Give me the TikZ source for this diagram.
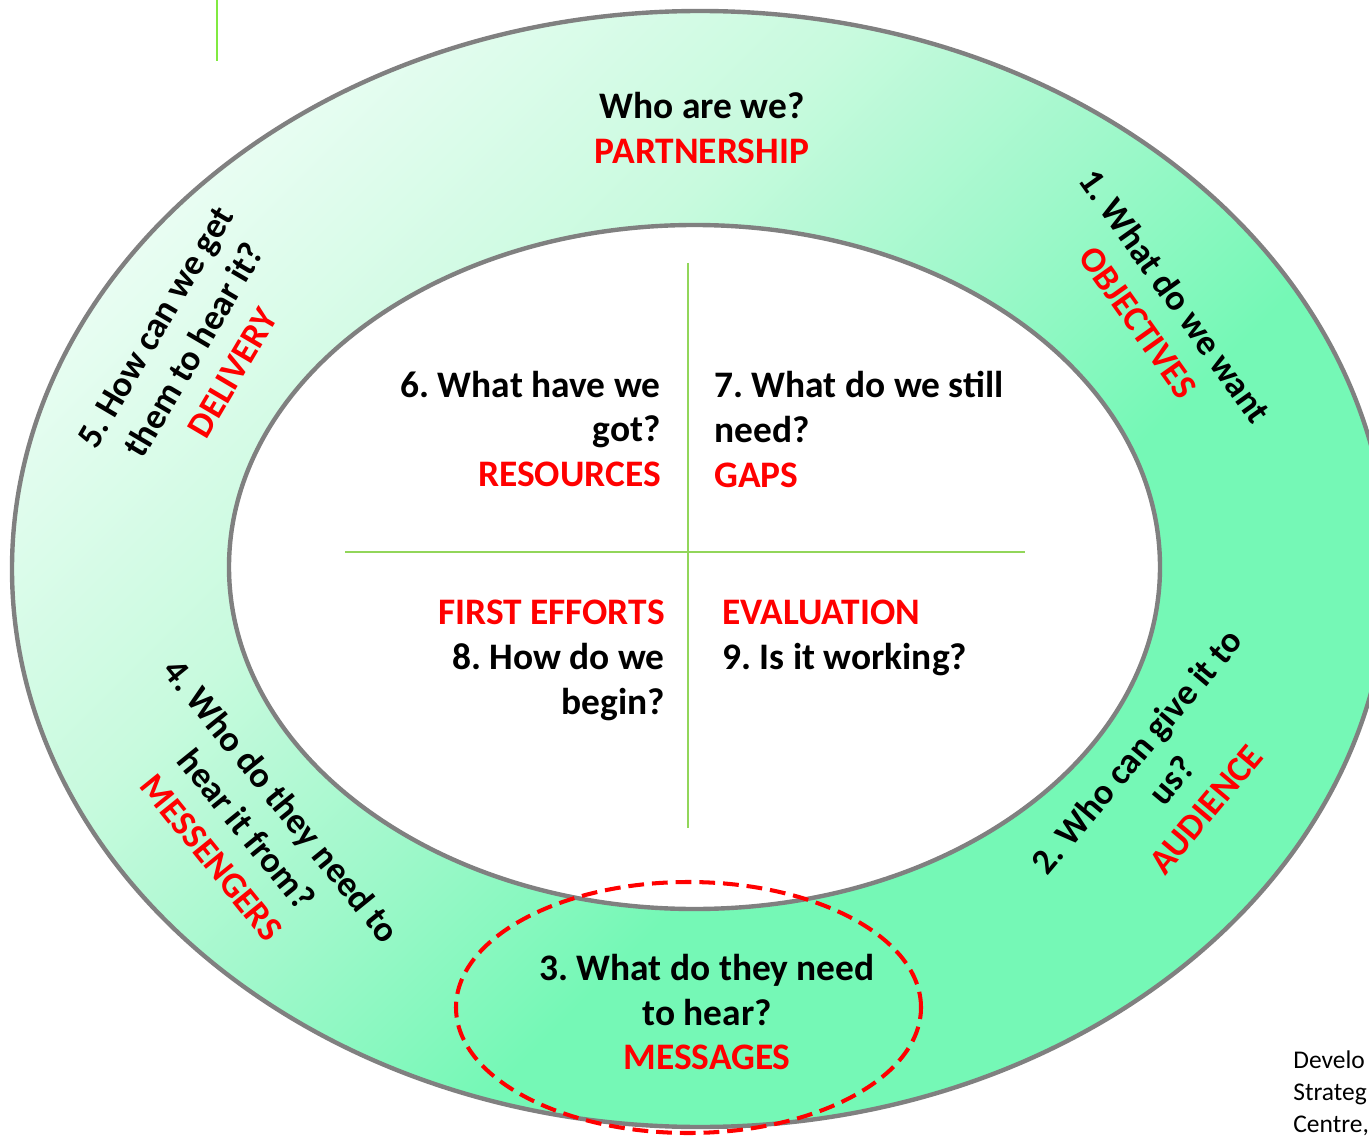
\documentclass[tikz,border=0pt]{standalone}
\usepackage{fontspec}
\setmainfont{Carlito}
\frenchspacing
\usetikzlibrary{shapes.geometric}
\definecolor{ringlight}{RGB}{232,253,242}
\definecolor{ringB}{RGB}{200,250,222}
\definecolor{ringC}{RGB}{160,248,203}
\definecolor{ringdark}{RGB}{117,248,182}
\definecolor{ringedge}{RGB}{128,128,128}
\definecolor{crossgreen}{RGB}{146,214,90}
\definecolor{topgreen}{RGB}{128,234,64}
\definecolor{labelred}{RGB}{255,0,0}
\pgfdeclareverticalshading{ringshade}{100bp}{color(0bp)=(ringdark); color(41bp)=(ringdark); color(51bp)=(ringC); color(61bp)=(ringB); color(75bp)=(ringlight); color(100bp)=(ringlight)}
\newcommand{\hl}[1]{\textcolor{labelred}{#1}}
\tikzset{
  qtext/.style={font={\fontsize{21.3}{25.6}\selectfont\bfseries}, inner sep=0pt, text=black},
  rtext/.style={font={\fontsize{20.5}{25.6}\selectfont\bfseries}, inner sep=0pt, text=black, align=center},
  ringline/.style={draw=ringedge, line width=2.5pt},
  crossline/.style={draw=crossgreen, line width=1.1pt},
  focusring/.style={ellipse, draw=labelred, line width=2.3pt, dash pattern=on 9pt off 4.5pt, minimum width=465*0.02cm, minimum height=251*0.02cm, inner sep=0pt},
  notetext/.style={font={\fontsize{14.5}{18.2}\selectfont}, inner sep=0pt, align=left, text=black}
}
\begin{document}
\begin{tikzpicture}[x=0.02cm,y=0.02cm]
\useasboundingbox (0,0) rectangle (1369,-1138);
\clip (0,0) rectangle (1369,-1138);
% ring
\shade[shading=ringshade, shading angle=45]
  (700,-569) ellipse [x radius=688, y radius=558];
\fill[white] (694.5,-567) ellipse [x radius=465.5, y radius=342];
\draw[ringline] (700,-569) ellipse [x radius=688, y radius=558];
\draw[ringline] (694.5,-567) ellipse [x radius=465.5, y radius=342];
% small green line top-left
\coordinate (gtop) at (217,0);
\coordinate (gbot) at (217,-61);
\draw[draw=topgreen, line width=1.7pt] (gtop) -- (gbot);
% cross
\coordinate (vtop) at (688,-263);
\coordinate (vbot) at (688,-828);
\coordinate (hleft) at (345,-552);
\coordinate (hright) at (1025,-552);
\draw[crossline] (vtop) -- (vbot);
\draw[crossline] (hleft) -- (hright);
% dashed focus ellipse
\node[focusring] (focus) at (688.5,-1007.5) {};
% texts
\node[qtext, align=center] (partner) at (702,-128) {Who are we?\\\hl{PARTNERSHIP}};
\node[qtext, align=right, anchor=east] (resources) at (661,-429) {6. What have we\\got?\\\hl{RESOURCES}};
\node[qtext, align=left, anchor=west] (gaps) at (714,-429) {7. What do we still\\need?\\\hl{GAPS}};
\node[qtext, align=right, anchor=east] (first) at (665,-660) {\hl{FIRST EFFORTS}\\8. How do we\\begin?};
\node[qtext, align=left, anchor=west] (evaluation) at (722,-638) {\hl{EVALUATION}\\9. Is it working?};
\node[qtext, align=center] (messages) at (707,-1012) {3. What do they need\\to hear?\\\hl{MESSAGES}};
\node[rtext, rotate=-54.6] (objectives) at (1157,-309) {1. What do we want\\\hl{OBJECTIVES}};
\node[rtext, rotate=50] (audience) at (1171,-780) {2. Who can give it to\\us?\\\hl{AUDIENCE}};
\node[rtext, rotate=-51] (messengers) at (247,-829) {4. Who do they need to\\hear it from?\\\hl{MESSENGERS}};
\node[rtext, rotate=59.5] (delivery) at (194,-350) {5. How can we get\\them to hear it?\\\hl{DELIVERY}};
\node[notetext, anchor=north west] (note) at (1293,-1050) {Develo\\Strateg\\Centre,};
\end{tikzpicture}
\end{document}
